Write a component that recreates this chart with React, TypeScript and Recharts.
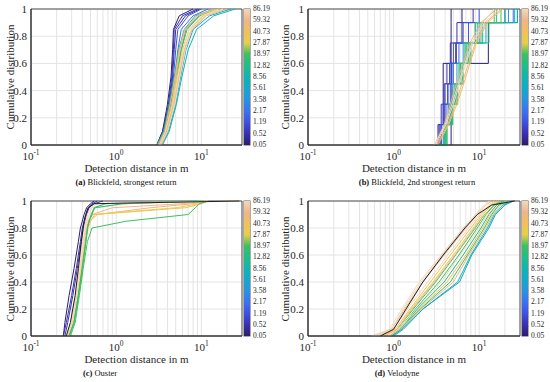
import React from "react";
import { CartesianGrid, Line, LineChart, ReferenceArea, XAxis, YAxis } from "recharts";

const FONT = "Liberation Serif, DejaVu Serif, serif";
const INK = "#262626";
const BLACK = "#1e1e1e";

const xTicks = [0.1, 0.2, 0.3, 0.4, 0.5, 0.6, 0.7, 0.8, 0.9, 1, 2, 3, 4, 5, 6, 7, 8, 9, 10, 20];
const yTicks = [0, 0.2, 0.4, 0.6, 0.8, 1];
const cbLabels = ["0.05", "0.52", "1.19", "2.17", "3.58", "5.61", "8.56", "12.82", "18.97", "27.87", "40.73", "59.32", "86.19"];
const cmap = [
  "#2b1e6a", "#3a2fb0", "#3f51e0", "#3b72f0", "#2a92e0", "#14a8cc", "#10b4b0",
  "#20bc8a", "#3cc060", "#e6cf4a", "#f2c058", "#f0b48a", "#f2d8bc",
];

// (a) Blickfeld, strongest return: distance (m) at which each curve reaches the level
const aLevels = [0, 0.1, 0.3, 0.5, 0.7, 0.85, 0.95, 1];
const aColors = [0, 1, 1, 2, 3, 4, 5, 6, 7, 8, 9, 10, 10, 11, 11, 12, 12];
const aDist = [
  [3.0, 3.5, 4.0, 4.4, 4.6, 4.7, 5.5, 8.0],
  [3.1, 3.6, 4.1, 4.5, 4.7, 4.8, 6.0, 9.0],
  [3.0, 3.5, 4.2, 4.6, 4.8, 5.0, 6.5, 9.5],
  [3.2, 3.7, 4.3, 4.7, 5.0, 5.3, 7.0, 10],
  [3.1, 3.8, 4.4, 4.9, 5.3, 5.8, 8.0, 12],
  [3.3, 3.9, 4.6, 5.2, 5.8, 6.6, 9.5, 15],
  [3.4, 4.1, 5.0, 5.7, 6.6, 8.0, 12.5, 22],
  [3.5, 4.2, 5.1, 5.9, 7.0, 8.8, 14, 25],
  [3.0, 3.6, 4.2, 4.8, 5.4, 6.3, 8.5, 14],
  [3.1, 3.7, 4.4, 5.0, 5.8, 6.8, 9.5, 16],
  [3.2, 3.8, 4.5, 5.2, 6.0, 7.2, 10.5, 18],
  [3.3, 3.9, 4.7, 5.4, 6.3, 7.6, 11, 18],
  [3.2, 3.8, 4.5, 5.0, 5.6, 6.5, 9, 15],
  [3.1, 3.7, 4.3, 4.9, 5.5, 6.4, 9, 14],
  [3.4, 4.0, 4.8, 5.5, 6.4, 7.8, 11.5, 20],
  [3.2, 3.8, 4.6, 5.3, 6.1, 7.2, 10, 16],
  [3.3, 4.0, 4.9, 5.6, 6.5, 7.6, 11, 18],
];

// (b) Blickfeld, 2nd strongest return
const bLevels = [0, 0.15, 0.3, 0.45, 0.6, 0.75, 0.9, 1];
const bColors = [0, 0, 0, 1, 2, 2, 3, 4, 5, 6, 7, 7, 8, 8, 11, 12, 11, 12, 10];
const bDist = [
  [4.7, 4.7, 4.7, 4.7, 4.7, 4.7, 4.7, 4.7],
  [3.3, 3.6, 3.8, 3.8, 3.8, 12.8, 12.8, 28],
  [3.0, 3.4, 3.9, 4.3, 4.8, 5.4, 6.3, 6.3],
  [3.1, 3.3, 3.6, 3.9, 4.2, 4.6, 5.5, 8.5],
  [3.2, 3.5, 3.8, 4.0, 4.5, 5.0, 6.5, 10],
  [3.3, 3.6, 4.0, 4.3, 4.7, 5.3, 7.5, 20],
  [3.4, 3.8, 4.2, 4.6, 5.0, 5.8, 9, 25],
  [3.3, 3.9, 4.4, 4.9, 5.5, 6.5, 10, 22],
  [3.5, 4.1, 4.6, 5.2, 6.0, 7.2, 11, 26],
  [3.4, 4.0, 4.7, 5.4, 6.3, 7.8, 12, 28],
  [3.6, 4.2, 4.9, 5.6, 6.5, 8.0, 13, 20],
  [3.2, 4.0, 4.6, 5.3, 6.0, 7.0, 9.5, 16],
  [3.4, 4.2, 4.9, 5.6, 6.4, 7.5, 10.5, 18],
  [3.1, 3.9, 4.5, 5.1, 5.8, 6.8, 9.0, 15],
  [3.0, 3.9, 4.6, 5.4, 6.5, 7.8, 10.5, 16],
  [3.1, 4.1, 5.0, 5.9, 7.0, 8.5, 11.5, 17],
  [3.2, 4.3, 5.3, 6.3, 7.5, 9.0, 12, 18],
  [3.0, 4.0, 4.8, 5.7, 6.8, 8.2, 11, 15],
  [3.3, 4.4, 5.5, 6.6, 7.8, 9.3, 12.5, 19],
];

// (c) Ouster
const cLevels = [0, 0.1, 0.3, 0.5, 0.7, 0.8, 0.85, 0.9, 0.95, 0.98, 1];
const cColors = [0, 1, 1, 11, 11, 10, 9, 12, 12, 7, 8, 8, 12, -1];
const cDist = [
  [0.24, 0.25, 0.28, 0.32, 0.36, 0.38, 0.40, 0.42, 0.45, 0.50, 0.55],
  [0.24, 0.26, 0.30, 0.34, 0.38, 0.40, 0.42, 0.44, 0.47, 0.52, 0.60],
  [0.25, 0.27, 0.31, 0.35, 0.39, 0.41, 0.43, 0.45, 0.48, 0.55, 0.70],
  [0.27, 0.31, 0.35, 0.38, 0.42, 0.45, 0.47, 0.52, 0.9, 6, 12],
  [0.28, 0.32, 0.36, 0.39, 0.43, 0.46, 0.49, 0.6, 2.5, 8, 12],
  [0.28, 0.32, 0.36, 0.40, 0.44, 0.47, 0.50, 0.56, 6.5, 10, 12],
  [0.27, 0.31, 0.35, 0.39, 0.43, 0.46, 0.48, 0.53, 5, 9.5, 12],
  [0.26, 0.30, 0.34, 0.37, 0.41, 0.43, 0.45, 0.48, 0.52, 0.8, 10],
  [0.27, 0.31, 0.35, 0.38, 0.42, 0.44, 0.46, 0.50, 0.56, 1.5, 12],
  [0.28, 0.32, 0.36, 0.40, 0.44, 0.46, 0.48, 0.52, 0.56, 1.2, 9],
  [0.29, 0.33, 0.37, 0.41, 0.46, 0.52, 1.3, 7, 8.5, 9.5, 12],
  [0.28, 0.32, 0.36, 0.40, 0.44, 0.46, 0.48, 0.51, 0.55, 0.75, 10],
  [0.26, 0.29, 0.33, 0.36, 0.40, 0.42, 0.44, 0.46, 0.50, 0.6, 28],
  [0.26, 0.29, 0.33, 0.36, 0.39, 0.41, 0.42, 0.44, 0.47, 0.55, 28],
];

// (d) Velodyne
const dLevels = [0, 0.05, 0.2, 0.4, 0.6, 0.8, 0.9, 0.97, 1];
const dColors = [12, 11, 12, 10, 9, 8, 11, 8, 12, 7, 10, 8, 11, 6, 5, 12, -1];
const dDist = [
  [0.55, 0.9, 1.25, 2.0, 3.6, 6.5, 9, 11.5, 13],
  [0.6, 0.95, 1.35, 2.2, 3.9, 7.0, 9.5, 12, 14],
  [0.65, 1.0, 1.45, 2.5, 4.3, 7.5, 10, 13, 15],
  [0.7, 1.05, 1.55, 2.7, 4.6, 8.0, 10.5, 13.5, 16],
  [0.8, 1.1, 1.6, 2.9, 5.0, 8.5, 11, 14, 17],
  [0.9, 1.1, 1.7, 3.1, 5.3, 9.0, 11.5, 15, 18],
  [0.75, 1.1, 1.65, 3.0, 5.2, 8.8, 11.5, 15, 18],
  [0.95, 1.15, 1.8, 3.4, 5.8, 9.5, 12, 15, 19],
  [0.85, 1.15, 1.85, 3.6, 6.0, 10, 12.5, 16, 20],
  [0.95, 1.2, 1.9, 3.9, 6.5, 10.5, 13, 16, 20],
  [0.9, 1.2, 2.0, 4.2, 7.0, 11, 13.5, 17, 21],
  [0.95, 1.2, 2.05, 4.6, 7.3, 11.5, 14, 17, 22],
  [0.9, 1.2, 2.1, 5.0, 7.6, 12, 14.5, 18, 23],
  [0.95, 1.25, 2.2, 5.6, 8.0, 12.5, 15, 19, 24],
  [1.0, 1.3, 2.2, 5.9, 8.2, 13.0, 15.5, 20, 25],
  [0.6, 0.95, 1.3, 2.1, 3.7, 6.6, 9.2, 12, 13.5],
  [0.7, 1.0, 1.4, 2.2, 3.8, 6.8, 9.5, 14, 26],
];

const colorOf = (c: number) => (c < 0 ? BLACK : cmap[c]);

function XTick(props: any) {
  const { x, y, payload } = props;
  const lg = Math.log10(payload.value);
  const e = Math.round(lg);
  if (Math.abs(lg - e) > 1e-6) return <g />;
  return (
    <text x={x} y={y + 15} textAnchor="middle" fontSize={11} fill={INK} style={{ fontFamily: FONT }}>
      10<tspan dy={-5} fontSize={7.5}>{e}</tspan>
    </text>
  );
}

type PanelProps = {
  left: number;
  top: number;
  plotL: number;
  plotR: number;
  plotT: number;
  plotB: number;
  cbX: number;
  levels: number[];
  colors: number[];
  dist: number[][];
  stepBelow?: number;
  tag: string;
  caption: string;
  capX: number;
};

function Panel(p: PanelProps) {
  const W = 275;
  const H = 191;
  const grad = cmap.map((c, i) => `${c} ${((i / 12) * 100).toFixed(2)}%`).join(", ");
  const cx = (p.plotL + p.plotR) / 2;
  return (
    <div style={{ position: "absolute", left: p.left, top: p.top, width: W, height: H, fontFamily: FONT, color: INK }}>
      <LineChart width={W} height={H} margin={{ top: p.plotT, right: W - p.plotR, left: 0, bottom: 0 }} style={{ fontFamily: FONT }}>
        <CartesianGrid stroke="#e4e4e4" strokeDasharray="" />
        <XAxis
          type="number"
          dataKey="x"
          scale="log"
          domain={[0.1, 30]}
          allowDataOverflow
          ticks={xTicks}
          interval={0}
          tick={<XTick />}
          tickLine={false}
          tickSize={0}
          tickMargin={0}
          height={H - p.plotB}
          axisLine={{ stroke: INK }}
        />
        <YAxis
          type="number"
          domain={[0, 1]}
          ticks={yTicks}
          width={p.plotL}
          tickLine={false}
          tickSize={0}
          tickMargin={4}
          tick={{ fontSize: 11, fill: INK, style: { fontFamily: FONT } }}
          axisLine={{ stroke: INK }}
        />
        {p.dist.map((d, i) => (
          <Line
            key={i}
            data={d.map((x, k) => ({ x, y: p.levels[k] }))}
            dataKey="y"
            type={p.stepBelow !== undefined && p.colors[i] < p.stepBelow ? "stepAfter" : "linear"}
            stroke={colorOf(p.colors[i])}
            strokeWidth={1}
            dot={false}
            isAnimationActive={false}
          />
        ))}
        <ReferenceArea x1={0.1} x2={30} y1={0} y2={1} fill="none" stroke={INK} strokeWidth={0.8} ifOverflow="visible" />
      </LineChart>

      <div
        style={{
          position: "absolute",
          left: 10,
          top: (p.plotT + p.plotB) / 2,
          transform: "translate(-50%, -50%) rotate(-90deg)",
          whiteSpace: "nowrap",
          fontSize: 11,
          lineHeight: 1,
        }}
      >
        Cumulative distribution
      </div>
      <div style={{ position: "absolute", left: cx, top: p.plotB + 23, transform: "translate(-50%, -50%)", whiteSpace: "nowrap", fontSize: 11, lineHeight: 1 }}>
        Detection distance in m
      </div>
      <div style={{ position: "absolute", left: p.capX, top: p.plotB + 37, transform: "translate(-50%, -50%)", whiteSpace: "nowrap", fontSize: 8.5, lineHeight: 1, color: "#111" }}>
        <b>{p.tag}</b> {p.caption}
      </div>

      <div
        style={{
          position: "absolute",
          left: p.cbX,
          top: p.plotT,
          width: 6,
          height: p.plotB - p.plotT,
          background: `linear-gradient(to top, ${grad})`,
          boxShadow: "0 0 0 0.5px #555",
        }}
      />
      {cbLabels.map((t, i) => (
        <div
          key={t}
          style={{
            position: "absolute",
            left: p.cbX + 9,
            top: p.plotB - (i * (p.plotB - p.plotT)) / 12,
            transform: "translateY(-50%)",
            fontSize: 7.5,
            lineHeight: 1,
            whiteSpace: "nowrap",
          }}
        >
          {t}
        </div>
      ))}
    </div>
  );
}

export default function App() {
  return (
    <div style={{ position: "absolute", left: 0, top: 0, width: 550, height: 382, background: "#fff", overflow: "hidden" }}>
      <Panel left={0} top={0} plotL={31} plotR={242} plotT={9} plotB={145} cbX={244} levels={aLevels} colors={aColors} dist={aDist} tag="(a)" caption="Blickfeld, strongest return" capX={126} />
      <Panel left={275} top={0} plotL={33} plotR={245} plotT={9} plotB={145} cbX={247} levels={bLevels} colors={bColors} dist={bDist} stepBelow={9} tag="(b)" caption="Blickfeld, 2nd strongest return" capX={142} />
      <Panel left={0} top={191} plotL={31} plotR={242} plotT={10} plotB={145} cbX={244} levels={cLevels} colors={cColors} dist={cDist} tag="(c)" caption="Ouster" capX={100} />
      <Panel left={275} top={191} plotL={33} plotR={245} plotT={10} plotB={145} cbX={247} levels={dLevels} colors={dColors} dist={dDist} tag="(d)" caption="Velodyne" capX={122} />
    </div>
  );
}
